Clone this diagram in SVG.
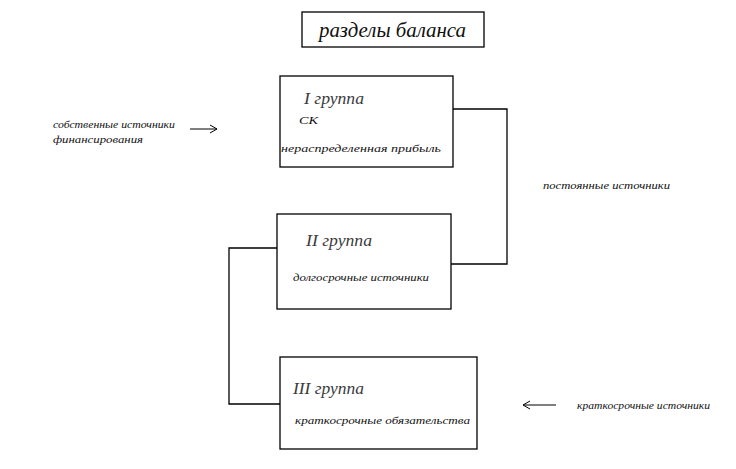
<svg xmlns="http://www.w3.org/2000/svg" width="736" height="469" viewBox="0 0 736 469">
<style>
.box{fill:#fff;stroke:#000;stroke-width:1.3}
.ln{fill:none;stroke:#000;stroke-width:1.3}
.ar{fill:none;stroke:#000;stroke-width:1}
text{font-family:"Liberation Serif","Times New Roman",serif;font-style:italic;fill:#111}
.t{font-size:21px}
.g{font-size:17px;fill:#3a3a3a}
.s{font-size:11px}
</style>
<rect width="736" height="469" fill="#fff"/>
<g id="title">
<rect class="box" x="302" y="12" width="182" height="35"/>
<text class="t" x="319" y="37" textLength="147" lengthAdjust="spacingAndGlyphs">разделы баланса</text>
</g>
<g id="connectors">
<polyline class="ln" points="453,109 507,109 507,264 451,264"/>
<polyline class="ln" points="277,248 229,248 229,404 280,404"/>
<path class="ar" d="M190,129 H217 M210,125 L217,129 L210,133"/>
<path class="ar" d="M523,405 H556 M530,401 L523,405 L530,409"/>
</g>
<g id="group1">
<rect class="box" x="280" y="76" width="173" height="91"/>
<text class="g" x="304" y="104" textLength="60" lengthAdjust="spacingAndGlyphs">I группа</text>
<text class="s" x="299" y="124" textLength="19" lengthAdjust="spacingAndGlyphs">СК</text>
<text class="s" x="281" y="152" textLength="160" lengthAdjust="spacingAndGlyphs">нераспределенная прибыль</text>
</g>
<g id="group2">
<rect class="box" x="277" y="214" width="174" height="95"/>
<text class="g" x="306" y="246" textLength="66" lengthAdjust="spacingAndGlyphs">II группа</text>
<text class="s" x="293" y="281" textLength="136" lengthAdjust="spacingAndGlyphs">долгосрочные источники</text>
</g>
<g id="group3">
<rect class="box" x="280" y="357" width="197" height="92"/>
<text class="g" x="293" y="394" textLength="71" lengthAdjust="spacingAndGlyphs">III группа</text>
<text class="s" x="295" y="424" textLength="175" lengthAdjust="spacingAndGlyphs">краткосрочные обязательства</text>
</g>
<g id="label-own">
<text class="s" x="53" y="128" textLength="122" lengthAdjust="spacingAndGlyphs">собственные источники</text>
<text class="s" x="53" y="143" textLength="90" lengthAdjust="spacingAndGlyphs">финансирования</text>
</g>
<g id="label-permanent">
<text class="s" x="543" y="189" textLength="127" lengthAdjust="spacingAndGlyphs">постоянные источники</text>
</g>
<g id="label-short">
<text class="s" x="577" y="409" textLength="133" lengthAdjust="spacingAndGlyphs">краткосрочные источники</text>
</g>
</svg>
